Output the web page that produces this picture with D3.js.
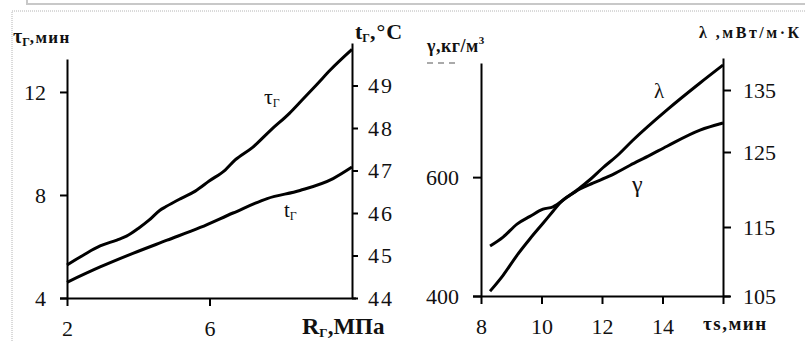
<!DOCTYPE html>
<html><head><meta charset="utf-8">
<script src="https://cdn.jsdelivr.net/npm/d3@7"></script>
<style>
html,body{margin:0;padding:0;background:#fff;}
svg{display:block;}
svg text{font-family:"Liberation Serif","Times New Roman",serif;}
</style></head>
<body>
<svg id="c" width="805" height="341"></svg>
<script>
// ---- Data (left chart: pressure R_Г vs τ_Г and t_Г) ----
const pressR   = [2, 2.5, 2.93, 3.4, 3.67, 4.0, 4.31, 4.6, 4.78, 5.22, 5.6, 6.0, 6.44, 6.72, 7.22, 7.72, 8.25, 8.54, 9.02, 9.39, 10];
const tauG     = [5.28, 5.7, 6.02, 6.25, 6.4, 6.7, 7.03, 7.4, 7.55, 7.88, 8.15, 8.55, 8.97, 9.36, 9.86, 10.52, 11.18, 11.6, 12.3, 12.85, 13.65];
const pressR2  = [2, 2.93, 3.85, 4.81, 5.74, 6.66, 7.62, 8.54, 9.47, 10];
const tempG    = [44.37, 44.73, 45.05, 45.36, 45.66, 46.0, 46.34, 46.53, 46.81, 47.08];
const leftXTicks  = [2, 6];
const tauTicks    = [4, 8, 12];
const tempTicks   = [44, 45, 46, 47, 48, 49];

// ---- Data (right chart: τs vs γ and λ) ----
const tauS     = [8.30, 8.73, 9.19, 9.62, 10.05, 10.38, 10.84, 11.27, 11.70, 12.26, 12.93, 13.59, 14.15, 15.24, 16.0];
const gamma    = [484, 499, 521, 534, 546, 550, 566, 580, 590, 602, 620, 637, 652, 679, 691];
const tauS2    = [8.30, 8.73, 9.19, 9.62, 10.05, 10.38, 10.61, 11.17, 11.60, 12.03, 12.50, 13.02, 14.15, 15.24, 16.0];
const lambda   = [105.7, 108.0, 110.9, 113.3, 115.5, 117.1, 118.2, 119.9, 121.3, 122.9, 124.5, 126.9, 131.8, 136.1, 138.9];
const rightXTicks = [8, 10, 12, 14];
const gammaTicks  = [400, 600];
const lambdaTicks = [105, 115, 125, 135];

const svg = d3.select("#c");
const SERIF = '"Liberation Serif","Times New Roman",serif';

// page decoration: grey frame remnants
svg.append("path").attr("d","M27,0 V4 H805").attr("fill","none").attr("stroke","#c8c8c8").attr("stroke-width",2);
svg.append("path").attr("d","M12,341 V11 H805").attr("fill","none").attr("stroke","#b4b4b4").attr("stroke-width",1).attr("stroke-dasharray","1,1");

const FS = 22;
function styleAxis(g){
  g.attr("font-family", SERIF).style("font-family", SERIF);
  g.selectAll("path.domain").attr("stroke","#000").attr("stroke-width",2);
  g.selectAll(".tick line").attr("stroke","#000").attr("stroke-width",2);
  g.selectAll(".tick text").attr("font-size",FS).attr("fill","#111").style("font-family", SERIF);
}
const lineStyle = p => p.attr("fill","none").attr("stroke","#000").attr("stroke-width",3).attr("stroke-linejoin","round");

// ================= LEFT CHART =================
const xL  = d3.scaleLinear().domain([2, 10]).range([67, 352]);
const yTau = d3.scaleLinear().domain([4, 13.28]).range([298, 59]);
const yT  = d3.scaleLinear().domain([44, 50]).range([298, 43]);

svg.append("g").attr("transform","translate(0,298)")
  .call(d3.axisBottom(xL).tickValues(leftXTicks).tickSize(8).tickSizeOuter(0).tickPadding(14).tickFormat(d3.format("d")))
  .call(styleAxis).call(g=>g.select("path.domain").attr("d","M60,0.5H356"));
svg.append("g").attr("transform","translate(67,0)")
  .call(d3.axisLeft(yTau).tickValues(tauTicks).tickSize(7).tickSizeOuter(0).tickPadding(14).tickFormat(d3.format("d")))
  .call(styleAxis);
svg.append("g").attr("transform","translate(352,0)")
  .call(d3.axisRight(yT).tickValues(tempTicks).tickSize(6).tickSizeOuter(0).tickPadding(10).tickFormat(d3.format("d")))
  .call(styleAxis).call(g=>g.selectAll(".tick text").attr("letter-spacing","2px"));

const curve = d3.curveMonotoneX;
svg.append("path").datum(d3.zip(pressR, tauG))
  .attr("d", d3.line().curve(curve).x(d=>xL(d[0])).y(d=>yTau(d[1]))).call(lineStyle);
svg.append("path").datum(d3.zip(pressR2, tempG))
  .attr("d", d3.line().curve(curve).x(d=>xL(d[0])).y(d=>yT(d[1]))).call(lineStyle);

// titles
function rich(x, y, parts, attrs){
  const t = svg.append("text").attr("x",x).attr("y",y).style("font-family", SERIF);
  Object.entries(attrs||{}).forEach(([k,v])=>t.attr(k,v));
  parts.forEach(p=>{
    const s = t.append("tspan").text(p.t);
    if(p.fs) s.attr("font-size",p.fs);
    if(p.dy) s.attr("dy",p.dy);
    if(p.ls) s.attr("letter-spacing",p.ls);
  });
  return t;
}
rich(13, 43, [{t:"τ",fs:20},{t:"Г",fs:12,dy:3},{t:",мин",fs:17,dy:-3,ls:"1.3px"}], {"font-weight":"bold","fill":"#111"});
rich(355, 39, [{t:"t",fs:22},{t:"Г",fs:12,dy:3},{t:",°C",fs:22,dy:-3,ls:"1px"}], {"font-weight":"bold","fill":"#111"});
rich(302, 334, [{t:"R",fs:24},{t:"Г",fs:13,dy:3},{t:",МПа",fs:23,dy:-3}], {"font-weight":"bold","fill":"#111"});
rich(264, 104, [{t:"τ",fs:22},{t:"Г",fs:12,dy:3}], {"fill":"#111"});
rich(284, 217, [{t:"t",fs:21},{t:"Г",fs:12,dy:3}], {"fill":"#111"});

// ================= RIGHT CHART =================
const xR = d3.scaleLinear().domain([8, 16]).range([481, 723]);
const yG = d3.scaleLinear().domain([400, 792]).range([296, 63]);
const yLam = d3.scaleLinear().domain([105, 115, 125, 135, 140]).range([296, 227, 152, 90, 58]);

svg.append("g").attr("transform","translate(0,296)")
  .call(d3.axisBottom(xR).tickValues(rightXTicks.concat([16])).tickSize(8).tickSizeOuter(0).tickPadding(14)
    .tickFormat(d=>rightXTicks.includes(d)?d3.format("d")(d):""))
  .call(styleAxis).call(g=>g.select("path.domain").attr("d","M473,0.5H730"));
svg.append("g").attr("transform","translate(481,0)")
  .call(d3.axisLeft(yG).tickValues(gammaTicks).tickSize(8).tickSizeOuter(0).tickPadding(14).tickFormat(d3.format("d")))
  .call(styleAxis);
svg.append("g").attr("transform","translate(723,0)")
  .call(d3.axisRight(yLam).tickValues(lambdaTicks).tickSize(8).tickSizeOuter(0).tickPadding(12).tickFormat(d3.format("d")))
  .call(styleAxis);

svg.append("path").datum(d3.zip(tauS, gamma))
  .attr("d", d3.line().curve(curve).x(d=>xR(d[0])).y(d=>yG(d[1]))).call(lineStyle);
svg.append("path").datum(d3.zip(tauS2, lambda))
  .attr("d", d3.line().curve(curve).x(d=>xR(d[0])).y(d=>yLam(d[1]))).call(lineStyle);

// clipped "800" remnant
svg.append("line").attr("x1",427).attr("x2",458).attr("y1",63).attr("y2",63)
  .attr("stroke","#aaa").attr("stroke-width",2).attr("stroke-dasharray","6,5");

rich(427, 52, [{t:"γ,кг/м",fs:18,ls:"0.5px"},{t:"3",fs:11,dy:-8}], {"font-weight":"bold","fill":"#111"});
rich(699, 38, [{t:"λ ,мВт/м·К",fs:16,ls:"2.5px"}], {"font-weight":"bold","fill":"#111"});
rich(703, 330, [{t:"τs,мин",fs:19,ls:"1.5px"}], {"font-weight":"bold","fill":"#111"});
rich(654, 98, [{t:"λ",fs:21}], {"fill":"#111"});
rich(632, 192, [{t:"γ",fs:24}], {"fill":"#111"});
</script>
</body></html>
